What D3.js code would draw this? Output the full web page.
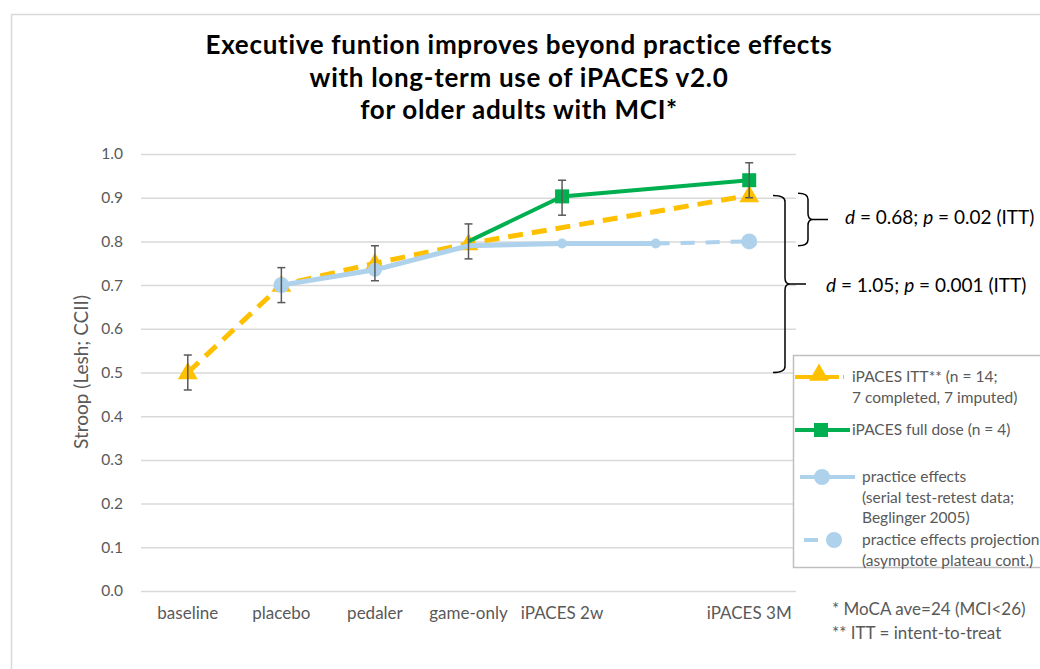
<!DOCTYPE html>
<html>
<head>
<meta charset="utf-8">
<script src="https://cdn.jsdelivr.net/npm/d3@7"></script>
<style>
  body { margin: 0; background: #fff; }
  text { font-family: Lato, "Open Sans", sans-serif; }
</style>
</head>
<body>
<script>
var width = 1040, height = 669;

// data
var categories = ["baseline", "placebo", "pedaler", "game-only", "iPACES 2w", "", "iPACES 3M"];
var ittValues = [0.50, 0.70, 0.75, 0.795, null, null, 0.905];
var fullDoseValues = [null, null, null, 0.80, 0.903, null, 0.94];
var practiceValues = [null, 0.70, 0.735, 0.79, 0.795, 0.795, null];
var projectionValues = [null, null, null, null, null, 0.795, 0.80];
var errLow = [0.46, 0.66, 0.71, 0.76, 0.86, null, 0.90];
var errHigh = [0.54, 0.74, 0.79, 0.84, 0.94, null, 0.98];
var yTicks = [0, 0.1, 0.2, 0.3, 0.4, 0.5, 0.6, 0.7, 0.8, 0.9, 1.0];
var titleLines = ["Executive funtion improves beyond practice  effects",
                  "with long-term use of iPACES v2.0",
                  "for older adults with MCI*"];

var svg = d3.select("body")
            .append("svg")
            .attr("width", width)
            .attr("height", height);

// chart frame
svg.append("rect")
   .attr("x", 11.5).attr("y", 14.5)
   .attr("width", 1100).attr("height", 700)
   .attr("fill", "none")
   .attr("stroke", "#d9d9d9")
   .attr("stroke-width", 1.5);

var x = d3.scaleBand().domain(d3.range(categories.length)).range([141, 796]);
var y = d3.scaleLinear().domain([0, 1]).range([591, 154]);
var cx = function(i) { return x(i) + x.bandwidth() / 2; };

// gridlines
svg.append("g")
   .attr("transform", "translate(141,0)")
   .call(d3.axisLeft(y).tickValues(yTicks).tickSize(-655).tickFormat(d3.format(".1f")))
   .call(function(g) {
      g.select(".domain").remove();
      g.selectAll("line").attr("stroke", "#d9d9d9").attr("stroke-width", 1.5);
      g.selectAll("text").attr("x", -18).attr("fill", "#595959")
       .attr("font-size", "15.5px").attr("font-family", "Lato, sans-serif");
   });

// x labels
svg.append("g")
   .attr("transform", "translate(0,591)")
   .call(d3.axisBottom(x).tickSize(0).tickFormat(function(i) { return categories[i]; }))
   .call(function(g) {
      g.select(".domain").remove();
      g.selectAll("text").attr("dy", "1.45em").attr("fill", "#595959")
       .attr("font-size", "17px").attr("font-family", "Lato, sans-serif");
   });

// y axis title
svg.append("text")
   .attr("transform", "translate(88,372) rotate(-90)")
   .attr("text-anchor", "middle")
   .attr("font-size", "19px")
   .attr("fill", "#595959")
   .text("Stroop (Lesh; CCII)");

// title
svg.selectAll(".title")
   .data(titleLines)
   .enter()
   .append("text")
   .attr("class", "title")
   .attr("x", 519)
   .attr("y", function(d, i) { return 54 + i * 32.5; })
   .attr("text-anchor", "middle")
   .attr("font-size", "26px")
   .attr("letter-spacing", "0.7px")
   .attr("font-weight", "bold")
   .attr("fill", "#000")
   .text(function(d) { return d; });

function pts(arr) {
   return arr.map(function(v, i) { return { v: v, i: i }; }).filter(function(d) { return d.v != null; });
}
var lineGap = d3.line()
   .x(function(d) { return cx(d.i); })
   .y(function(d) { return y(d.v); });

var orange = "#ffc000", green = "#00b050", blue = "#aed2ec";

// ITT (dashed, spans the gap)
svg.append("path")
   .attr("d", lineGap(pts(ittValues)))
   .attr("fill", "none")
   .attr("stroke", orange)
   .attr("stroke-width", 5)
   .attr("stroke-dasharray", "15,9");

var tri = d3.symbol().type(d3.symbolTriangle).size(170);
svg.selectAll(".itt")
   .data(pts(ittValues))
   .enter()
   .append("path")
   .attr("class", "itt")
   .attr("d", tri)
   .attr("transform", function(d) { return "translate(" + cx(d.i) + "," + (y(d.v) + 1) + ")"; })
   .attr("fill", orange);

// practice effects
svg.append("path")
   .attr("d", lineGap(pts(projectionValues)))
   .attr("fill", "none")
   .attr("stroke", blue)
   .attr("stroke-width", 4)
   .attr("stroke-dasharray", "14,11");

svg.append("path")
   .attr("d", lineGap(pts(practiceValues)))
   .attr("fill", "none")
   .attr("stroke", blue)
   .attr("stroke-width", 5);

var practiceR = [0, 8, 7, 0, 5, 5, 0];
svg.selectAll(".prac")
   .data(pts(practiceValues).filter(function(d) { return practiceR[d.i] > 0; }))
   .enter()
   .append("circle")
   .attr("class", "prac")
   .attr("cx", function(d) { return cx(d.i); })
   .attr("cy", function(d) { return y(d.v); })
   .attr("r", function(d) { return practiceR[d.i]; })
   .attr("fill", blue);

svg.selectAll(".proj")
   .data(pts(projectionValues).slice(-1))
   .enter()
   .append("circle")
   .attr("class", "proj")
   .attr("cx", function(d) { return cx(d.i); })
   .attr("cy", function(d) { return y(d.v); })
   .attr("r", 8)
   .attr("fill", blue);

// full dose
svg.append("path")
   .attr("d", lineGap(pts(fullDoseValues)))
   .attr("fill", "none")
   .attr("stroke", green)
   .attr("stroke-width", 4);

svg.selectAll(".full")
   .data(pts(fullDoseValues).slice(1))
   .enter()
   .append("rect")
   .attr("class", "full")
   .attr("x", function(d) { return cx(d.i) - 7; })
   .attr("y", function(d) { return y(d.v) - 7; })
   .attr("width", 14)
   .attr("height", 14)
   .attr("fill", green);

// error bars
var errs = errLow.map(function(lo, i) { return { i: i, lo: lo, hi: errHigh[i] }; })
                 .filter(function(d) { return d.lo != null; });
var eb = svg.selectAll(".err").data(errs).enter().append("g").attr("class", "err")
   .attr("stroke", "#595959").attr("stroke-width", 1.5);
eb.append("line")
   .attr("x1", function(d) { return cx(d.i); }).attr("x2", function(d) { return cx(d.i); })
   .attr("y1", function(d) { return y(d.lo); }).attr("y2", function(d) { return y(d.hi); });
eb.append("line")
   .attr("x1", function(d) { return cx(d.i) - 4; }).attr("x2", function(d) { return cx(d.i) + 4; })
   .attr("y1", function(d) { return y(d.lo); }).attr("y2", function(d) { return y(d.lo); });
eb.append("line")
   .attr("x1", function(d) { return cx(d.i) - 4; }).attr("x2", function(d) { return cx(d.i) + 4; })
   .attr("y1", function(d) { return y(d.hi); }).attr("y2", function(d) { return y(d.hi); });

// braces
function brace(x0, yTop, yBot, w, tip) {
   var xm = x0 + w, ym = (yTop + yBot) / 2, r = 6;
   var p = d3.path();
   p.moveTo(x0, yTop);
   p.quadraticCurveTo(xm, yTop, xm, yTop + r);
   p.lineTo(xm, ym - r);
   p.quadraticCurveTo(xm, ym, xm + 5, ym);
   p.lineTo(tip, ym);
   p.moveTo(xm + 5, ym);
   p.quadraticCurveTo(xm, ym, xm, ym + r);
   p.lineTo(xm, yBot - r);
   p.quadraticCurveTo(xm, yBot, x0, yBot);
   return p.toString();
}
svg.append("path")
   .attr("d", brace(798, y(0.91), y(0.79), 10, 828))
   .attr("fill", "none").attr("stroke", "#000").attr("stroke-width", 1.5);
svg.append("path")
   .attr("d", brace(773, y(0.905), y(0.5), 12, 806))
   .attr("fill", "none").attr("stroke", "#000").attr("stroke-width", 1.5);

function stat(xx, yy, dv, pv) {
   var t = svg.append("text").attr("x", xx).attr("y", yy).attr("font-size", "19px").attr("fill", "#000");
   t.append("tspan").attr("font-style", "italic").text("d");
   t.append("tspan").text(" = " + dv + "; ");
   t.append("tspan").attr("font-style", "italic").text("p");
   t.append("tspan").text(" = " + pv + " (ITT)");
}
stat(845, 224, "0.68", "0.02");
stat(826, 292, "1.05", "0.001");

// legend
var lg = svg.append("g");
lg.append("rect")
  .attr("x", 793.5).attr("y", 355.5).attr("width", 300).attr("height", 212)
  .attr("fill", "#fff").attr("stroke", "#bfbfbf").attr("stroke-width", 1.5);

var legendItems = [
   { kind: "itt", y: 377, lines: ["iPACES ITT** (n = 14;", "7 completed, 7 imputed)"], tx: 852 },
   { kind: "full", y: 430, lines: ["iPACES full dose (n = 4)"], tx: 852 },
   { kind: "prac", y: 477, lines: ["practice effects", "(serial test-retest data;", "Beglinger 2005)"], tx: 862 },
   { kind: "proj", y: 540, lines: ["practice effects projection", "(asymptote plateau cont.)"], tx: 862 }
];
legendItems.forEach(function(it) {
   if (it.kind === "itt") {
      lg.append("line").attr("x1", 795).attr("x2", 844).attr("y1", it.y).attr("y2", it.y)
        .attr("stroke", orange).attr("stroke-width", 4).attr("stroke-dasharray", "20,4");
      lg.append("path").attr("d", tri).attr("transform", "translate(819," + (it.y - 2) + ")").attr("fill", orange);
   } else if (it.kind === "full") {
      lg.append("line").attr("x1", 795).attr("x2", 850).attr("y1", it.y).attr("y2", it.y)
        .attr("stroke", green).attr("stroke-width", 4);
      lg.append("rect").attr("x", 814).attr("y", it.y - 7).attr("width", 14).attr("height", 14).attr("fill", green);
   } else if (it.kind === "prac") {
      lg.append("line").attr("x1", 800).attr("x2", 855).attr("y1", it.y).attr("y2", it.y)
        .attr("stroke", blue).attr("stroke-width", 4);
      lg.append("circle").attr("cx", 822).attr("cy", it.y).attr("r", 8).attr("fill", blue);
   } else {
      lg.append("line").attr("x1", 804).attr("x2", 818).attr("y1", it.y).attr("y2", it.y)
        .attr("stroke", blue).attr("stroke-width", 4);
      lg.append("circle").attr("cx", 834).attr("cy", it.y).attr("r", 8).attr("fill", blue);
   }
   it.lines.forEach(function(s, k) {
      lg.append("text").attr("x", it.tx).attr("y", it.y + 5 + k * 20.5)
        .attr("font-size", "15.5px").attr("fill", "#595959").text(s);
   });
});

// footnotes
svg.append("text").attr("x", 832).attr("y", 615).attr("font-size", "17px").attr("fill", "#595959")
   .text("* MoCA ave=24 (MCI<26)");
svg.append("text").attr("x", 832).attr("y", 639).attr("font-size", "17px").attr("fill", "#595959")
   .text("** ITT = intent-to-treat");
</script>
</body>
</html>
